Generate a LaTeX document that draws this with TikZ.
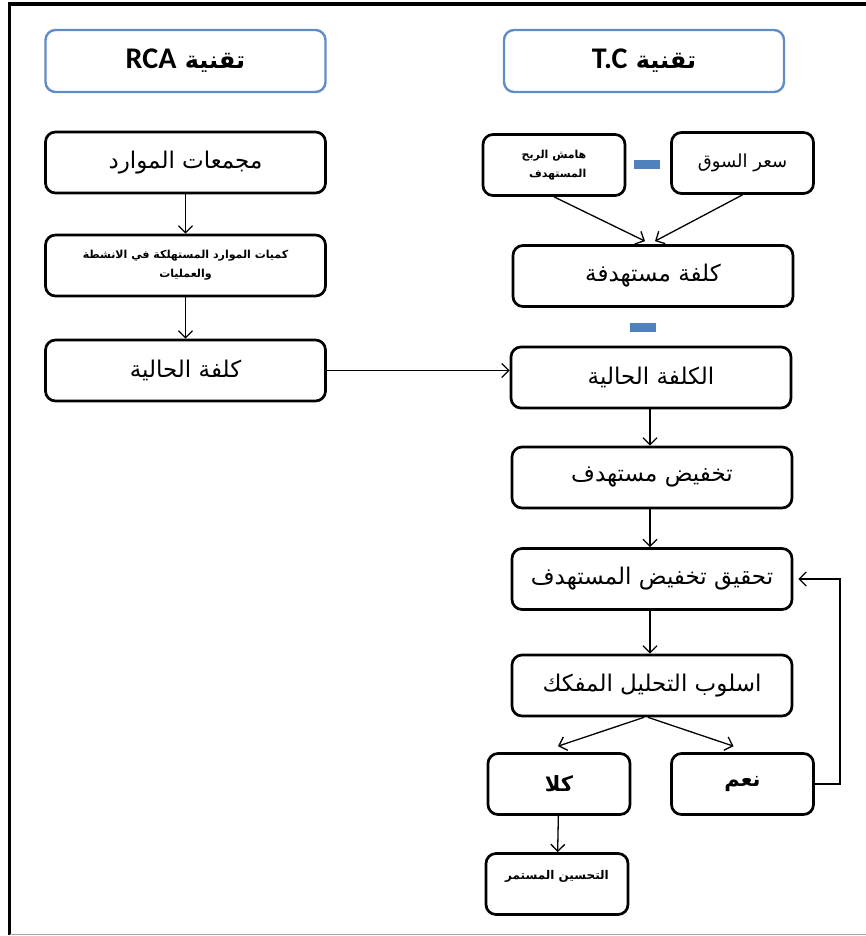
\documentclass[tikz,border=0pt]{standalone}
\usepackage{fontspec}
\setmainfont{Liberation Sans}
\newfontfamily\arfont[Script=Arabic]{DejaVu Sans}
\newfontfamily\latinhead{Carlito}
\TeXXeTstate=1
\usetikzlibrary{arrows.meta}

\definecolor{headblue}{RGB}{96,140,200}
\definecolor{dashblue}{RGB}{79,129,189}

\newcommand\rtl[1]{\beginR #1\endR}

\tikzset{
  box/.style={draw, line width=2.7pt, rounded corners=10pt,
    minimum width=280pt, minimum height=61pt, inner sep=0pt, align=center,
    font=\arfont\fontsize{23}{27}\selectfont},
  smallbox/.style={box, minimum width=142pt},
  head/.style={box, draw=headblue, line width=2.4pt, minimum height=62pt,
    font=\arfont\bfseries\fontsize{24}{28}\selectfont},
  tiny/.style={font=\arfont\bfseries\fontsize{11}{19}\selectfont},
  answer/.style={font=\arfont\bfseries\fontsize{21}{25}\selectfont},
  flow/.style={-{Straight Barb[length=7pt,width=14pt]}, line width=1.3pt},
  minus/.style={fill=dashblue, draw=none, minimum width=26pt,
    minimum height=9pt, inner sep=0pt},
}

\begin{document}
\begin{tikzpicture}[x=1pt,y=-1pt]
\useasboundingbox (0,0) rectangle (866,936);

% outer frame
\draw[line width=3.5pt] (866,4) -- (9.5,4) -- (9.5,935);
\draw[gray!70, line width=1.5pt] (9.5,934.5) -- (866,934.5);

% column headings
\node[head] (hrca) at (185.5,61) {\rtl{تقنية \beginL{\latinhead\bfseries\fontsize{30}{34}\selectfont RCA}\endL}};
\node[head] (htc) at (644,61) {\rtl{تقنية \beginL{\latinhead\bfseries\fontsize{30}{34}\selectfont T.C}\endL}};

% RCA column
\node[box] (pools) at (185.5,162.5) {\rtl{مجمعات الموارد}};
\node[box, tiny] (qty) at (185.5,265.5) {\rtl{كميات الموارد المستهلكة في الانشطة}\\\rtl{والعمليات}};
\node[box] (curl) at (185.5,370.5) {\rtl{كلفة الحالية}};

% T.C column
\node[smallbox, tiny, align=right] (margin) at (554,165) {\rtl{هامش الربح}\\\rtl{المستهدف}};
\node[smallbox, font=\arfont\fontsize{18}{22}\selectfont] (price) at (742.5,163) {\rtl{سعر السوق}};
\node[minus] (m1) at (647,165) {};
\node[box] (target) at (653,276) {\rtl{كلفة مستهدفة}};
\node[minus] (m2) at (643,327) {};
\node[box] (curr) at (651,377.5) {\rtl{الكلفة الحالية}};
\node[box] (reduce) at (652,477.5) {\rtl{تخفيض مستهدف}};
\node[box] (achieve) at (652,579) {\rtl{تحقيق تخفيض المستهدف}};
\node[box] (method) at (652,685.5) {\rtl{اسلوب التحليل المفكك}};
\node[smallbox, answer] (no) at (559,784) {\rtl{كلا}};
\node[smallbox, answer] (yes) at (742.5,784) {\rtl{نعم}};
\node[smallbox, tiny, font=\arfont\bfseries\fontsize{12}{19}\selectfont, text depth=18pt] (improve) at (557,884) {\rtl{التحسين المستمر}};

% connectors
\draw[flow] (pools) -- (qty);
\draw[flow] (qty) -- (curl);
\draw[flow] (curl.east) -- (curl.east -| curr.west);
\draw[flow] (margin.south) -- ([xshift=-8pt,yshift=3pt]target.north);
\draw[flow] (price.south) -- ([xshift=2pt,yshift=3pt]target.north);
\draw[flow] ([xshift=-1pt]curr.south) -- ([xshift=-2pt]reduce.north);
\draw[flow] ([xshift=-2pt]reduce.south) -- ([xshift=-2pt]achieve.north);
\draw[flow] ([xshift=-2pt]achieve.south) -- ([xshift=-2pt]method.north);
\draw[flow] ([xshift=-8pt]method.south) -- ([shift={(-1pt,6pt)}]no.north);
\draw[flow] ([xshift=-4pt]method.south) -- ([shift={(-9pt,6pt)}]yes.north);
\draw[flow] (yes.east) -- ++(25,0) |- ([xshift=5pt]achieve.east);
\draw[flow] (no) -- (improve);
\end{tikzpicture}
\end{document}
